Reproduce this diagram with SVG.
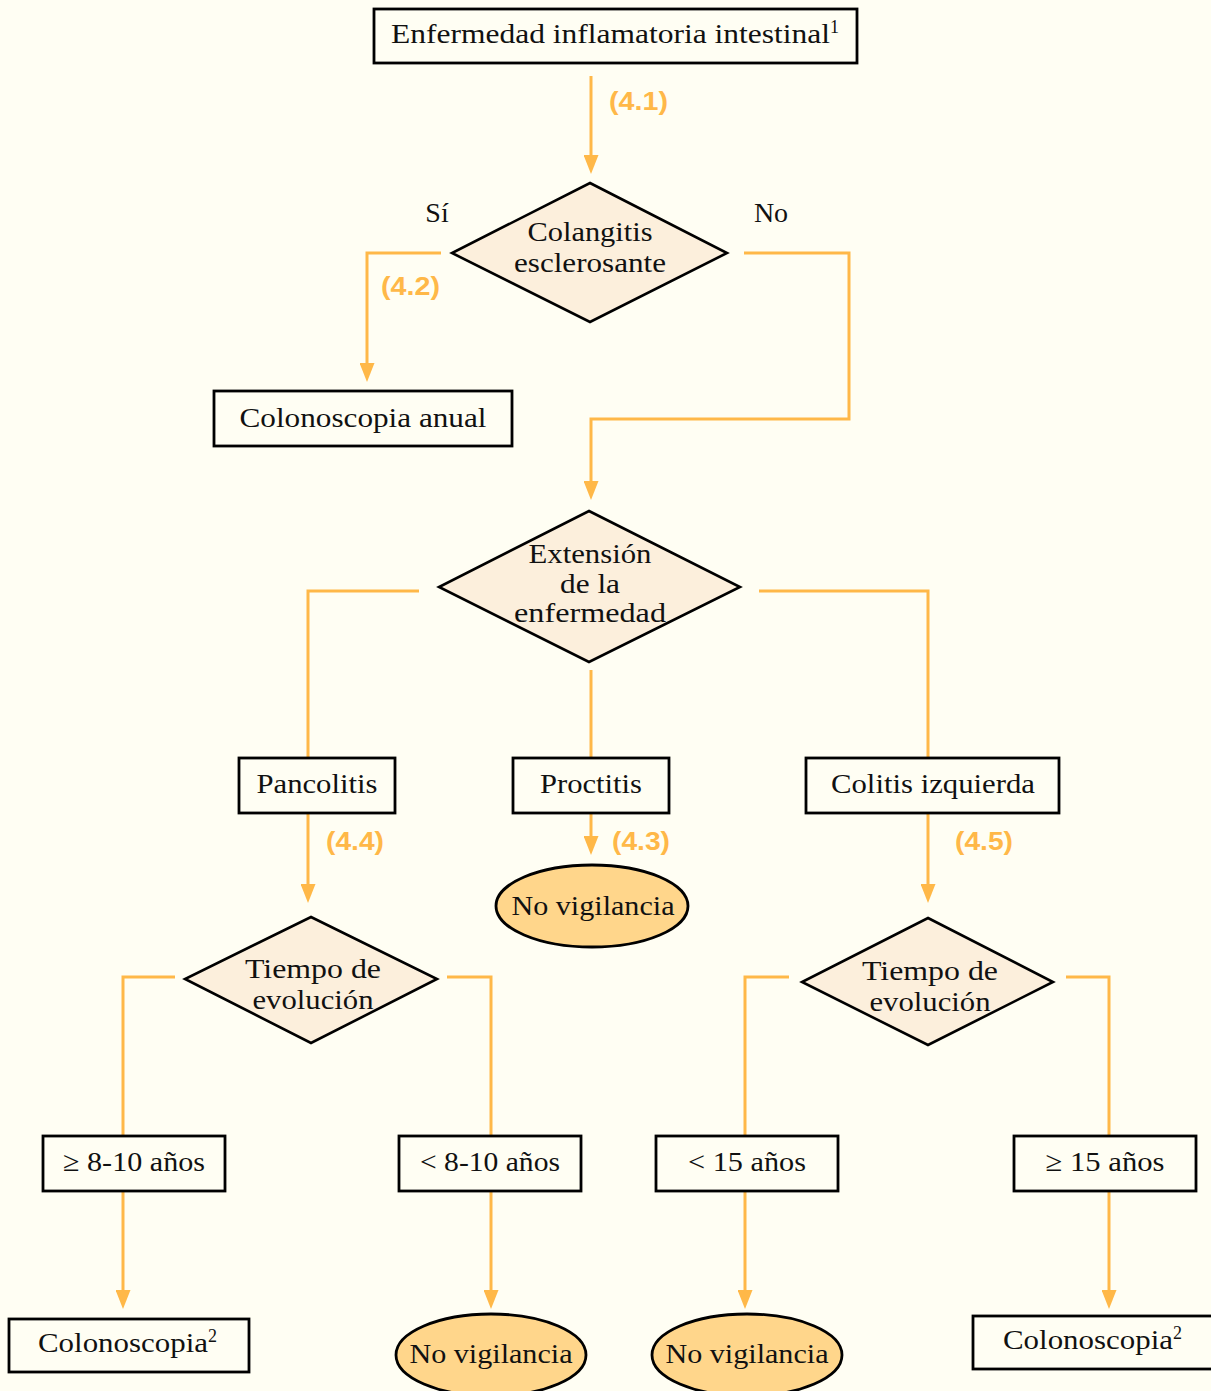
<svg xmlns="http://www.w3.org/2000/svg" width="1211" height="1391" viewBox="0 0 1211 1391">
<style>
.bg{fill:#FFFEF3}
.box{fill:#FFFEF3;stroke:#000;stroke-width:2.8}
.dia{fill:#FCEFDC;stroke:#000;stroke-width:2.6}
.ell{fill:#FFD68B;stroke:#000;stroke-width:2.8}
.t{font-family:"Liberation Serif","Times New Roman",serif;font-size:28px;fill:#111;text-anchor:middle}
.ts{font-family:"Liberation Serif","Times New Roman",serif;font-size:28px;fill:#111}
.sup{font-size:18px}
.lbl{font-family:"Liberation Sans",Arial,sans-serif;font-size:25px;font-weight:bold;fill:#FFB848}
.c{fill:none;stroke:#FFB848;stroke-width:3;marker-end:url(#ah)}
.cn{fill:none;stroke:#FFB848;stroke-width:3}
</style>
<defs>
<marker id="ah" viewBox="0 0 19 15" refX="11" refY="7.5" markerWidth="19" markerHeight="15" markerUnits="userSpaceOnUse" orient="auto">
<path d="M0,0 L19,7.5 L0,15 Z" fill="#FFB848"/>
</marker>
</defs>
<rect class="bg" x="0" y="0" width="1211" height="1391"/>

<g id="connectors">
<path class="c" d="M591,76 V166"/>
<path class="c" d="M441,253 H367 V374"/>
<path class="c" d="M744,253 H849 V419 H591 V492"/>
<path class="cn" d="M419,591 H308 V758"/>
<path class="cn" d="M591,670 V758"/>
<path class="cn" d="M759,591 H928 V758"/>
<path class="c" d="M308,813 V895"/>
<path class="c" d="M591,813 V847"/>
<path class="c" d="M928,813 V895"/>
<path class="cn" d="M175,977 H123 V1136"/>
<path class="cn" d="M447,977 H491 V1136"/>
<path class="cn" d="M789,977 H745 V1136"/>
<path class="cn" d="M1066,977 H1109 V1136"/>
<path class="c" d="M123,1191 V1301"/>
<path class="c" d="M491,1191 V1301"/>
<path class="c" d="M745,1191 V1301"/>
<path class="c" d="M1109,1191 V1301"/>
<text class="lbl" x="609" y="110" textLength="59" lengthAdjust="spacingAndGlyphs">(4.1)</text>
<text class="lbl" x="381" y="295" textLength="59" lengthAdjust="spacingAndGlyphs">(4.2)</text>
<text class="lbl" x="326" y="850" textLength="58" lengthAdjust="spacingAndGlyphs">(4.4)</text>
<text class="lbl" x="612" y="850" textLength="58" lengthAdjust="spacingAndGlyphs">(4.3)</text>
<text class="lbl" x="955" y="850" textLength="58" lengthAdjust="spacingAndGlyphs">(4.5)</text>
<text class="t" x="437" y="222">Sí</text>
<text class="t" x="771" y="222">No</text>
</g>

<g id="n-eii">
<rect class="box" x="374" y="9" width="483" height="54"/>
<text class="ts" x="391" y="43"><tspan textLength="439" lengthAdjust="spacingAndGlyphs">Enfermedad inflamatoria intestinal</tspan><tspan class="sup" dy="-10">1</tspan></text>
</g>

<g id="n-colangitis">
<polygon class="dia" points="590,183 727,253 590,322 452,253"/>
<text class="t" x="590" y="241" textLength="125" lengthAdjust="spacingAndGlyphs">Colangitis</text>
<text class="t" x="590" y="272" textLength="152" lengthAdjust="spacingAndGlyphs">esclerosante</text>
</g>

<g id="n-anual">
<rect class="box" x="214" y="391" width="298" height="55"/>
<text class="t" x="363" y="427" textLength="247" lengthAdjust="spacingAndGlyphs">Colonoscopia anual</text>
</g>

<g id="n-extension">
<polygon class="dia" points="589,511 740,587 589,662 439,587"/>
<text class="t" x="590" y="563" textLength="123" lengthAdjust="spacingAndGlyphs">Extensión</text>
<text class="t" x="590" y="593" textLength="60" lengthAdjust="spacingAndGlyphs">de la</text>
<text class="t" x="590" y="622" textLength="152" lengthAdjust="spacingAndGlyphs">enfermedad</text>
</g>

<g id="n-pancolitis">
<rect class="box" x="239" y="758" width="156" height="55"/>
<text class="t" x="317" y="793" textLength="121" lengthAdjust="spacingAndGlyphs">Pancolitis</text>
</g>

<g id="n-proctitis">
<rect class="box" x="513" y="758" width="156" height="55"/>
<text class="t" x="591" y="793" textLength="102" lengthAdjust="spacingAndGlyphs">Proctitis</text>
</g>

<g id="n-colitis">
<rect class="box" x="806" y="758" width="253" height="55"/>
<text class="t" x="933" y="793" textLength="204" lengthAdjust="spacingAndGlyphs">Colitis izquierda</text>
</g>

<g id="n-novig1">
<ellipse class="ell" cx="592" cy="906" rx="96" ry="41"/>
<text class="t" x="593" y="915" textLength="163" lengthAdjust="spacingAndGlyphs">No vigilancia</text>
</g>

<g id="n-tiempo1">
<polygon class="dia" points="311,917 437,979 311,1043 185,979"/>
<text class="t" x="313" y="978" textLength="136" lengthAdjust="spacingAndGlyphs">Tiempo de</text>
<text class="t" x="313" y="1009" textLength="121" lengthAdjust="spacingAndGlyphs">evolución</text>
</g>

<g id="n-tiempo2">
<polygon class="dia" points="928,918 1053,982 928,1045 802,982"/>
<text class="t" x="930" y="980" textLength="136" lengthAdjust="spacingAndGlyphs">Tiempo de</text>
<text class="t" x="930" y="1011" textLength="121" lengthAdjust="spacingAndGlyphs">evolución</text>
</g>

<g id="n-ge810">
<rect class="box" x="43" y="1136" width="182" height="55"/>
<text class="t" x="134" y="1171" textLength="142" lengthAdjust="spacingAndGlyphs">≥ 8-10 años</text>
</g>

<g id="n-lt810">
<rect class="box" x="399" y="1136" width="182" height="55"/>
<text class="t" x="490" y="1171" textLength="140" lengthAdjust="spacingAndGlyphs">&lt; 8-10 años</text>
</g>

<g id="n-lt15">
<rect class="box" x="656" y="1136" width="182" height="55"/>
<text class="t" x="747" y="1171" textLength="118" lengthAdjust="spacingAndGlyphs">&lt; 15 años</text>
</g>

<g id="n-ge15">
<rect class="box" x="1014" y="1136" width="182" height="55"/>
<text class="t" x="1105" y="1171" textLength="119" lengthAdjust="spacingAndGlyphs">≥ 15 años</text>
</g>

<g id="n-colono1">
<rect class="box" x="9" y="1319" width="240" height="53"/>
<text class="ts" x="38" y="1352"><tspan textLength="170" lengthAdjust="spacingAndGlyphs">Colonoscopia</tspan><tspan class="sup" dy="-10">2</tspan></text>
</g>

<g id="n-novig2">
<ellipse class="ell" cx="491" cy="1355" rx="95" ry="41"/>
<text class="t" x="491" y="1363" textLength="163" lengthAdjust="spacingAndGlyphs">No vigilancia</text>
</g>

<g id="n-novig3">
<ellipse class="ell" cx="747" cy="1355" rx="95" ry="41"/>
<text class="t" x="747" y="1363" textLength="163" lengthAdjust="spacingAndGlyphs">No vigilancia</text>
</g>

<g id="n-colono2">
<rect class="box" x="973" y="1316" width="245" height="53"/>
<text class="ts" x="1003" y="1349"><tspan textLength="170" lengthAdjust="spacingAndGlyphs">Colonoscopia</tspan><tspan class="sup" dy="-10">2</tspan></text>
</g>
</svg>
